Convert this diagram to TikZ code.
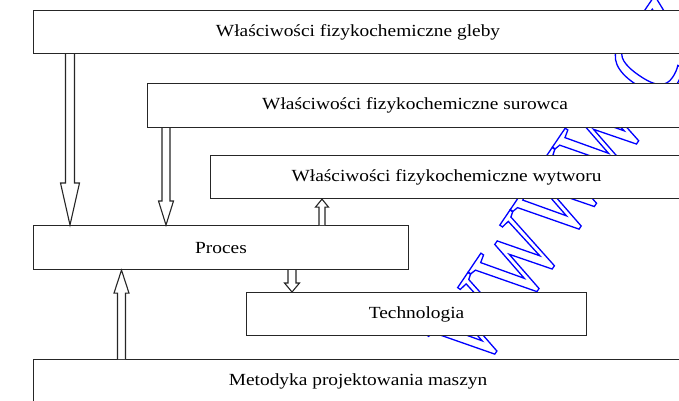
\documentclass[tikz,border=0pt]{standalone}
\usepackage{fontspec}
\setmainfont{Liberation Serif}[FakeStretch=1.14]
\newfontfamily\markfont{Liberation Serif}[FakeStretch=0.72]
\usetikzlibrary{calc}

\tikzset{
  box/.style={draw=black!85, line width=1.1pt, fill=white, rectangle,
    inner sep=0pt, anchor=north west, font=\fontsize{17}{20}\selectfont},
  arrowline/.style={draw=black!85, line width=1.1pt, fill=white, line join=miter},
}

% hollow block arrow: tail, tip, shaft half width, head half width, head length
\newcommand{\hollowarrow}[5]{%
  \path[arrowline] let \p1=(#1), \p2=(#2), \p3=($(#2)!#5!(#1)$) in
    (\x1-#3,\y1) -- (\x1-#3,\y3) -- (\x1-#4,\y3) -- (\x2,\y2)
    -- (\x1+#4,\y3) -- (\x1+#3,\y3) -- (\x1+#3,\y1);}

\begin{document}
\begin{tikzpicture}[x=1pt,y=-1pt]
\useasboundingbox (0,0) rectangle (679,400);
\clip (0,0) rectangle (679,400);

% outlined watermark behind the boxes
\begin{scope}
\node[rotate=56, anchor=base west, inner sep=0pt, text=blue,
  font=\markfont\fontsize{145}{145}\selectfont] (wmark) at (481,372)
  {\special{pdf:literal direct 1 Tr 1.3 w 0 0 1 RG}wwww.czasopisma.pan.pl\special{pdf:literal direct 0 Tr}};
\end{scope}

% boxes
\node[box, minimum width=649pt, minimum height=43pt] (gleby) at (33,10) {Właściwości fizykochemiczne gleby};
\node[box, minimum width=535pt, minimum height=44pt] (surowca) at (147,83) {Właściwości fizykochemiczne surowca};
\node[box, minimum width=472pt, minimum height=43pt] (wytworu) at (210,155) {Właściwości fizykochemiczne wytworu};
\node[box, minimum width=375pt, minimum height=44pt] (proces) at (33,225) {Proces};
\node[box, minimum width=340pt, minimum height=43pt] (tech) at (246,292) {Technologia};
\node[box, minimum width=649pt, minimum height=44pt] (metod) at (33,359) {Metodyka projektowania maszyn};

% arrow axes
\coordinate (ax1) at (70,0);
\coordinate (ax2) at (166,0);
\coordinate (ax3) at (322,0);
\coordinate (ax4) at (292,0);
\coordinate (ax5) at (121.5,0);

% arrows
\hollowarrow{ax1 |- gleby.south}{ax1 |- proces.north}{4.5pt}{9.5pt}{42pt}
\hollowarrow{ax2 |- surowca.south}{ax2 |- proces.north}{4pt}{7.5pt}{24pt}
\hollowarrow{ax3 |- proces.north}{ax3 |- wytworu.south}{3pt}{6.5pt}{8pt}
\hollowarrow{ax4 |- proces.south}{ax4 |- tech.north}{4pt}{7.5pt}{9pt}
\hollowarrow{ax5 |- metod.north}{ax5 |- proces.south}{4pt}{7.5pt}{23pt}
\end{tikzpicture}
\end{document}
